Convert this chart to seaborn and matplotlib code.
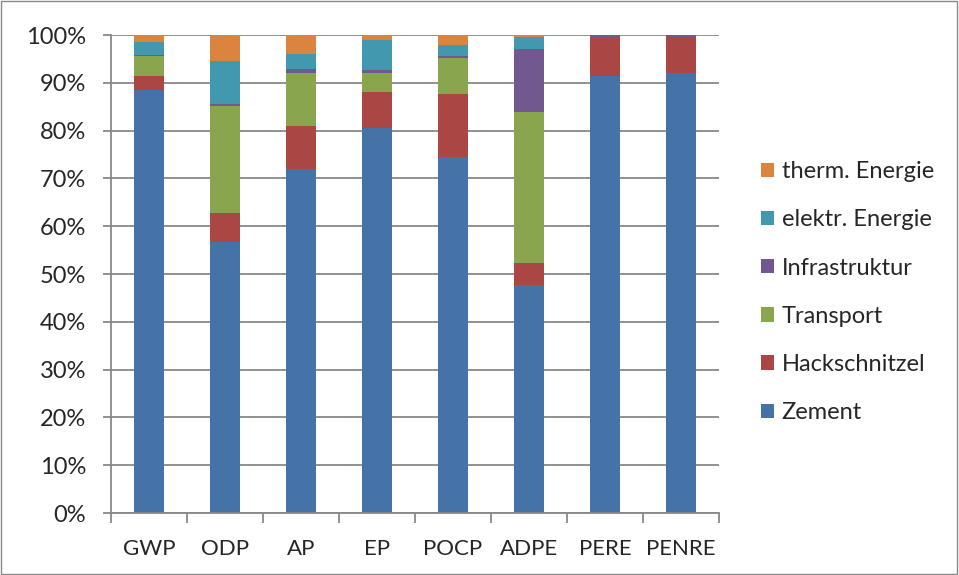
import numpy as np
import pandas as pd
import seaborn as sns
import matplotlib.pyplot as plt
from matplotlib.patches import Rectangle
from matplotlib.ticker import PercentFormatter, FixedLocator

# shares per impact category, in percent
categories = ['GWP', 'ODP', 'AP', 'EP', 'POCP', 'ADPE', 'PERE', 'PENRE']
zement = [88.6, 56.8, 72.0, 80.6, 74.5, 47.6, 91.4, 92.0]
hackschnitzel = [2.8, 6.0, 9.0, 7.4, 13.2, 4.7, 7.9, 7.6]
transport = [4.3, 22.4, 11.0, 4.0, 7.5, 31.5, 0.0, 0.0]
infrastruktur = [0.1, 0.3, 0.8, 0.7, 0.5, 13.2, 0.7, 0.4]
elektr = [2.8, 9.0, 3.2, 6.3, 2.3, 2.6, 0.0, 0.0]
therm = [1.4, 5.5, 4.0, 1.0, 2.0, 0.4, 0.0, 0.0]

series = ['Zement', 'Hackschnitzel', 'Transport', 'Infrastruktur',
          'elektr. Energie', 'therm. Energie']
values = [zement, hackschnitzel, transport, infrastruktur, elektr, therm]
colors = ['#4572A7', '#AA4643', '#89A54E', '#71588F', '#4198AF', '#DB843D']

df = pd.DataFrame({s: v for s, v in zip(series, values)}, index=categories)
cum = df.cumsum(axis=1)

sns.set_style('white')
plt.rcParams['font.family'] = ['Lato', 'DejaVu Sans']

fig = plt.figure(figsize=(9.59, 5.75), dpi=100)
ax = fig.add_axes([0.1157, 0.1078, 0.634, 0.8313])

# stacked bars: draw tallest cumulative first so lower segments sit on top
for s, c in reversed(list(zip(series, colors))):
    d = pd.DataFrame({'cat': categories, 'val': cum[s].values})
    sns.barplot(data=d, x='cat', y='val', color=c, width=0.4,
                saturation=1, linewidth=0, ax=ax, label=s)

ax.set_ylim(0, 100)
ax.set_xlim(-0.5, len(categories) - 0.5)
ax.yaxis.set_major_locator(FixedLocator(np.arange(0, 101, 10)))
ax.yaxis.set_major_formatter(PercentFormatter(decimals=0))
ax.grid(axis='y', color='#888888', linewidth=1.3)
ax.set_axisbelow(True)
ax.set_xlabel('')
ax.set_ylabel('')
for sp in ['top', 'right']:
    ax.spines[sp].set_visible(False)
for sp in ['left', 'bottom']:
    ax.spines[sp].set_color('#888888')
    ax.spines[sp].set_linewidth(1.3)

ax.tick_params(axis='y', length=6, width=1.3, color='#888888', pad=12,
               labelsize=17, left=True, direction='out')
ax.tick_params(axis='x', which='major', length=0, pad=19, labelsize=16)
ax.set_xticks(np.arange(-0.5, len(categories)), minor=True)
ax.tick_params(axis='x', which='minor', length=7, width=1.3,
               color='#888888', bottom=True, direction='out')

handles, labels = ax.get_legend_handles_labels()
leg = ax.legend(handles, labels, loc='center left',
                bbox_to_anchor=(1.035, 0.462), frameon=False, fontsize=17,
                handlelength=0.55, handleheight=0.55, handletextpad=0.3,
                labelspacing=1.15)

fig.add_artist(Rectangle((0.001, 0.002), 0.997, 0.996, transform=fig.transFigure,
                         fill=False, edgecolor='#888888', linewidth=1))

fig.savefig('out.png', dpi=100)
